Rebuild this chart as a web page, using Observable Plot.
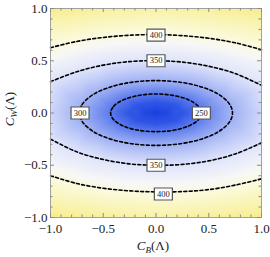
<!DOCTYPE html>
<html>
<head>
<meta charset="utf-8">
<script src="https://cdn.jsdelivr.net/npm/d3@7"></script>
<script src="https://cdn.jsdelivr.net/npm/@observablehq/plot@0.6"></script>
<style>
  html, body { margin: 0; padding: 0; background: #fff; }
  svg { display: block; }
</style>
</head>
<body>
<div id="chart"></div>
<script>
// ---- data ----
const levels = [250, 300, 350, 400];

// closed contours (x, y)
const contour250 = [[-0.43,0],[-0.40,0.066],[-0.30,0.13],[-0.15,0.17],[0,0.182],[0.15,0.17],[0.30,0.13],[0.40,0.066],[0.43,0],[0.40,-0.066],[0.30,-0.128],[0.15,-0.168],[0,-0.178],[-0.15,-0.168],[-0.30,-0.128],[-0.40,-0.066]];
const contour300 = [[-0.725,0],[-0.70,0.081],[-0.60,0.174],[-0.45,0.243],[-0.25,0.291],[0,0.31],[0.25,0.291],[0.45,0.243],[0.60,0.174],[0.70,0.081],[0.725,0],[0.70,-0.081],[0.60,-0.174],[0.45,-0.243],[0.25,-0.291],[0,-0.31],[-0.25,-0.291],[-0.45,-0.243],[-0.60,-0.174],[-0.70,-0.081]];
// open contours: upper and lower branches
const contour350Top = [[-1,0.30],[-0.75,0.395],[-0.5,0.458],[-0.25,0.492],[0,0.50],[0.25,0.487],[0.5,0.447],[0.75,0.378],[1,0.265]];
const contour350Bot = [[-1,-0.25],[-0.75,-0.372],[-0.5,-0.445],[-0.25,-0.487],[0,-0.50],[0.25,-0.492],[0.5,-0.458],[0.75,-0.392],[1,-0.285]];
const contour400Top = [[-1,0.625],[-0.75,0.685],[-0.5,0.723],[-0.25,0.744],[0,0.75],[0.25,0.74],[0.5,0.715],[0.75,0.672],[1,0.605]];
const contour400Bot = [[-1,-0.60],[-0.75,-0.675],[-0.5,-0.72],[-0.25,-0.745],[0,-0.755],[0.25,-0.752],[0.5,-0.733],[0.75,-0.69],[1,-0.63]];

// inner core of the shading (estimated from the darkest blue region)
const coreX = [0, -0.26, -0.18, 0, 0.18, 0.26, 0.18, 0, -0.18, -0.09, 0.09];
const coreY = [0, 0, 0.076, 0.105, 0.076, 0, -0.076, -0.105, -0.076, 0, 0];
const coreV = [175, 212, 212, 212, 212, 212, 212, 212, 212, 185, 185];

// field samples at the frame edges, estimated from the shading
const edgeX = [-1, -0.5, 0, 0.5, 1, -1, -0.5, 0, 0.5, 1, -1, -1, -1, 1, 1, 1];
const edgeY = [1, 1, 1, 1, 1, -1, -1, -1, -1, -1, 0.5, 0, -0.5, 0.5, 0, -0.5];
const edgeV = [460, 450, 444, 450, 460, 460, 450, 444, 450, 460, 383, 336, 383, 383, 336, 383];

// contour labels
const labelText = ["400", "350", "300", "250", "350", "400"];
const labelX = [0.0, 0.0, -0.72, 0.43, 0.0, 0.07];
const labelY = [0.745, 0.50, 0.0, 0.0, -0.50, -0.775];

// ticks
const majorTicks = [-1, -0.5, 0, 0.5, 1];
const minorTicks = [-0.9,-0.8,-0.7,-0.6,-0.4,-0.3,-0.2,-0.1,0.1,0.2,0.3,0.4,0.6,0.7,0.8,0.9];

// colour ramp
const colorDomain = [175, 212, 250, 300, 350, 385, 405, 440, 460];
const colorRange = ["#1b3fe0", "#2f55e6", "#5a7aec", "#a0b1f4", "#dfe4fb", "#f7f7f7", "#fbfadc", "#f9f3ac", "#f7ed8c"];

// ---- build tables ----
const openLines = [];
[[contour350Top, "350t"], [contour350Bot, "350b"], [contour400Top, "400t"], [contour400Bot, "400b"]]
  .forEach(([pts, id]) => pts.forEach(([x, y]) => openLines.push({x, y, id})));
const closed250 = contour250.map(([x, y]) => ({x, y}));
const closed300 = contour300.map(([x, y]) => ({x, y}));

const samples = [];
[[contour250, 250], [contour300, 300], [contour350Top, 350], [contour350Bot, 350], [contour400Top, 400], [contour400Bot, 400]]
  .forEach(([pts, v]) => pts.forEach(([x, y]) => samples.push({x, y, v})));
coreX.forEach((x, i) => samples.push({x, y: coreY[i], v: coreV[i]}));
edgeX.forEach((x, i) => samples.push({x, y: edgeY[i], v: edgeV[i]}));

const labels = labelText.map((t, i) => ({t, x: labelX[i], y: labelY[i]}));

const W = 270, H = 257, mL = 50, mR = 9, mT = 8, mB = 40;
const fw = W - mL - mR, fh = H - mT - mB;
const boxSymbol = { draw(ctx) { ctx.rect(-9, -6, 18, 12); } };
const fmt = d3.format(".1f");
const tickColor = "#8a8a8a";

const dash = {stroke: "black", strokeWidth: 1.6, strokeDasharray: "3,2.4"};

const chart = Plot.plot({
  width: W, height: H,
  marginLeft: mL, marginRight: mR, marginTop: mT, marginBottom: mB,
  x: {domain: [-1, 1]},
  y: {domain: [-1, 1]},
  color: {type: "linear", domain: colorDomain, range: colorRange},
  style: {fontFamily: "'Liberation Serif', 'DejaVu Serif', serif", fontSize: "13px", background: "white", color: "#222"},
  marks: [
    Plot.raster(samples, {x: "x", y: "y", fill: "v", interpolate: "barycentric"}),
    Plot.line(openLines, {x: "x", y: "y", z: "id", curve: "catmull-rom", ...dash}),
    Plot.line(closed250, {x: "x", y: "y", curve: "catmull-rom-closed", ...dash}),
    Plot.line(closed300, {x: "x", y: "y", curve: "catmull-rom-closed", ...dash}),
    Plot.frame({stroke: "#a0a0a0", strokeWidth: 1}),
    // inward ticks on all four sides
    Plot.tickX(majorTicks, {x: d => d, stroke: tickColor, insetTop: fh - 4}),
    Plot.tickX(minorTicks, {x: d => d, stroke: tickColor, insetTop: fh - 2.5}),
    Plot.tickX(majorTicks, {x: d => d, stroke: tickColor, insetBottom: fh - 4}),
    Plot.tickX(minorTicks, {x: d => d, stroke: tickColor, insetBottom: fh - 2.5}),
    Plot.tickY(majorTicks, {y: d => d, stroke: tickColor, insetRight: fw - 4}),
    Plot.tickY(minorTicks, {y: d => d, stroke: tickColor, insetRight: fw - 2.5}),
    Plot.tickY(majorTicks, {y: d => d, stroke: tickColor, insetLeft: fw - 4}),
    Plot.tickY(minorTicks, {y: d => d, stroke: tickColor, insetLeft: fw - 2.5}),
    Plot.axisX({anchor: "bottom", ticks: majorTicks, tickSize: 0, tickPadding: 6, tickFormat: fmt, label: null}),
    Plot.axisY({anchor: "left", ticks: majorTicks, tickSize: 0, tickPadding: 3, tickFormat: fmt, label: null}),
    Plot.dot(labels, {x: "x", y: "y", symbol: boxSymbol, fill: "white", stroke: "#555", strokeWidth: 1.2}),
    Plot.text(labels, {x: "x", y: "y", text: "t", fontSize: 8.5, fill: "#222"})
  ]
});

document.getElementById("chart").appendChild(chart);

// axis titles with italic subscripts
const svg = d3.select(chart);
function title(sel, main, sub) {
  sel.append("tspan").attr("font-style", "italic").text(main);
  sel.append("tspan").attr("font-style", "italic").attr("font-size", 9).attr("dy", 3).text(sub);
  sel.append("tspan").attr("dy", -3).text("(Λ)");
}
const xt = svg.append("text")
  .attr("x", 153).attr("y", 250).attr("text-anchor", "middle")
  .attr("font-size", 13).attr("fill", "#222");
title(xt, "C", "B");
const yt = svg.append("text")
  .attr("transform", "translate(14,109) rotate(-90)").attr("text-anchor", "middle")
  .attr("font-size", 13).attr("fill", "#222");
title(yt, "C", "W");
</script>
</body>
</html>
